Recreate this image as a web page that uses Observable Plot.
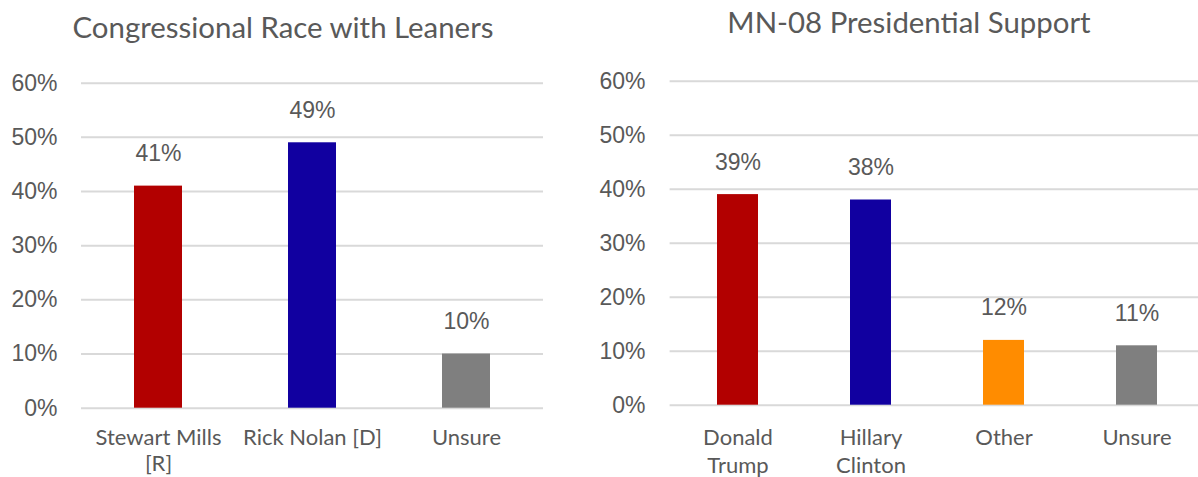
<!DOCTYPE html>
<html>
<head>
<meta charset="utf-8">
<script src="https://cdn.jsdelivr.net/npm/d3@7"></script>
<script src="https://cdn.jsdelivr.net/npm/@observablehq/plot@0.6"></script>
<style>
  html, body { margin: 0; padding: 0; background: #fff; overflow: hidden; }
  body { width: 1198px; height: 477px; position: relative; }
  .title { position: absolute; font-family: Lato, "Open Sans", sans-serif; font-size: 29.4px; color: #595959; white-space: nowrap; transform: translateX(-50%); }
  .panel { position: absolute; top: 0; }
  .panel svg { max-width: none !important; }
</style>
</head>
<body>
<div class="title" id="t1" style="left:283px; top:9px;">Congressional Race with Leaners</div>
<div class="title" id="t2" style="left:909px; top:4px;">MN-08 Presidential Support</div>
<div class="panel" id="p1" style="left:0px; width:580px;"></div>
<div class="panel" id="p2" style="left:580px; width:626px;"></div>
<script>
// ---- Data ----
const congCategories = ["Stewart Mills [R]", "Rick Nolan [D]", "Unsure"];
const congValues = [0.41, 0.49, 0.10];
const congTickLabels = ["Stewart Mills\n[R]", "Rick Nolan [D]", "Unsure"];

const presCategories = ["Donald Trump", "Hillary Clinton", "Other", "Unsure"];
const presValues = [0.39, 0.38, 0.12, 0.11];
const presTickLabels = ["Donald\nTrump", "Hillary\nClinton", "Other", "Unsure"];

const yTicks = [0, 0.1, 0.2, 0.3, 0.4, 0.5, 0.6];

// ---- Styles ----
const congColors = ["#B20000", "#1100A0", "#7F7F7F"];
const presColors = ["#B20000", "#1100A0", "#FF8C00", "#7F7F7F"];
const textColor = "#595959";
const gridColor = "#D9D9D9";

function makeChart(categories, values, tickLabels, colors, opts) {
  const data = categories.map((c, i) => ({cat: c, val: values[i], label: tickLabels[i]}));
  const labelOf = new Map(data.map(d => [d.cat, d.label]));
  return Plot.plot({
    width: opts.width,
    height: 477,
    marginLeft: opts.marginLeft,
    marginRight: opts.marginRight,
    marginTop: opts.marginTop,
    marginBottom: opts.marginBottom,
    style: {background: "transparent", overflow: "visible", maxWidth: "none"},
    x: {domain: categories, paddingInner: 0.69, paddingOuter: 0.345, align: 0.5},
    y: {domain: [0, 0.6]},
    color: {domain: categories, range: colors},
    marks: [
      Plot.ruleY(yTicks, {stroke: gridColor, strokeWidth: 2}),
      Plot.barY(data, {x: "cat", y: "val", fill: "cat"}),
      Plot.text(data, {x: "cat", y: "val", text: d => Math.round(d.val * 100) + "%",
        lineAnchor: "bottom", dy: -25, fill: textColor,
        fontFamily: "'Liberation Sans', Arial, sans-serif", fontSize: 23}),
      Plot.axisY({ticks: yTicks, tickFormat: d => Math.round(d * 100) + "%", tickSize: 0,
        tickPadding: opts.yPad, fill: textColor, fontFamily: "'Liberation Sans', Arial, sans-serif",
        fontSize: 23, label: null}),
      Plot.axisX({tickFormat: d => labelOf.get(d), tickSize: 0, tickPadding: opts.xPad,
        fill: textColor, fontFamily: "Lato, sans-serif", fontSize: 22, label: null,
        lineHeight: opts.lh})
    ]
  });
}

document.getElementById("p1").append(makeChart(congCategories, congValues, congTickLabels, congColors,
  {width: 580, marginLeft: 81, marginRight: 37, marginTop: 82.7, marginBottom: 69.3, yPad: 24, xPad: 18, lh: 1.2}));
document.getElementById("p2").append(makeChart(presCategories, presValues, presTickLabels, presColors,
  {width: 626, marginLeft: 89.6, marginRight: 0.5, marginTop: 80.7, marginBottom: 72.3, yPad: 24.6, xPad: 20, lh: 1.28}));
</script>
</body>
</html>
